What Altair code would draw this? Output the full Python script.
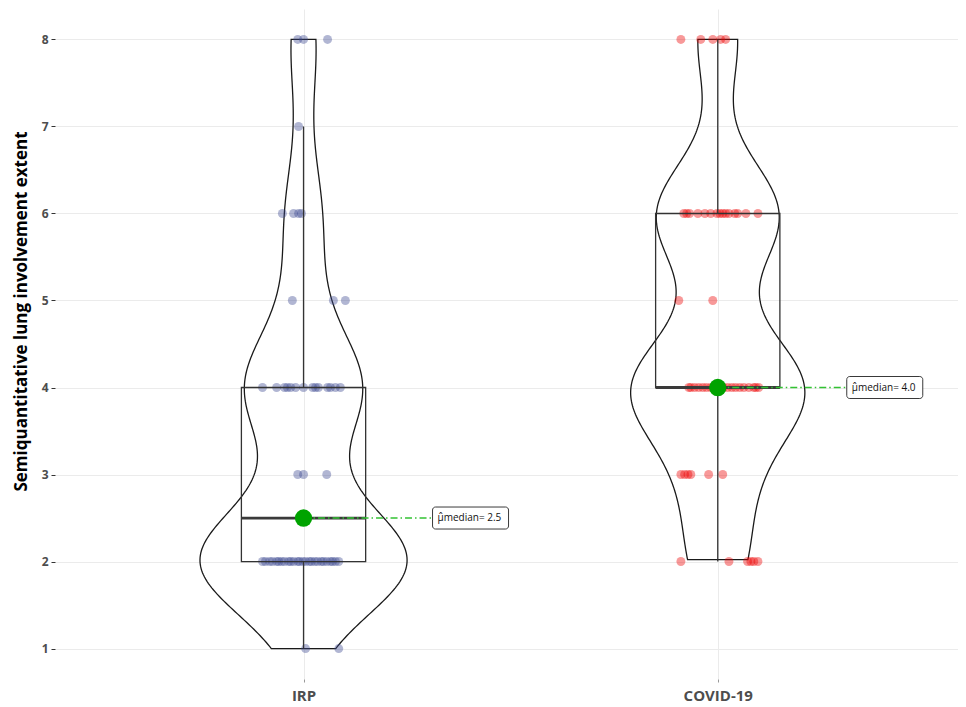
import altair as alt
import pandas as pd

groups = ["IRP", "COVID-19"]
group_pos = [1, 2]
point_colors = ["#3B4992", "#EE0000"]
y_ticks = [1, 2, 3, 4, 5, 6, 7, 8]

irp_y = [1, 1,
         2, 2, 2, 2, 2, 2, 2, 2, 2, 2, 2, 2, 2, 2, 2, 2, 2, 2, 2, 2, 2, 2, 2, 2, 2, 2,
         3, 3, 3,
         4, 4, 4, 4, 4, 4, 4, 4, 4, 4, 4, 4, 4, 4,
         5, 5, 5,
         6, 6, 6, 6,
         7,
         8, 8, 8]
irp_dx = [0.005, 0.085,
          -0.099, -0.092, -0.082, -0.075, -0.065, -0.060, -0.053, -0.046, -0.036, -0.031,
          -0.024, -0.014, -0.010, -0.002, 0.005, 0.014, 0.019, 0.027, 0.034, 0.043,
          0.048, 0.056, 0.065, 0.070, 0.077, 0.085,
          -0.014, 0.000, 0.056,
          -0.099, -0.065, -0.046, -0.039, -0.031, -0.019, 0.000, 0.022, 0.029, 0.036,
          0.058, 0.065, 0.077, 0.089,
          -0.027, 0.072, 0.101,
          -0.051, -0.024, -0.012, -0.005,
          -0.012,
          -0.014, 0.000, 0.058]

covid_y = [2, 2, 2, 2, 2, 2,
           3, 3, 3, 3, 3, 3,
           4, 4, 4, 4, 4, 4, 4, 4, 4, 4, 4, 4, 4, 4, 4, 4, 4, 4, 4, 4,
           5, 5,
           6, 6, 6, 6, 6, 6, 6, 6, 6, 6, 6, 6, 6, 6, 6,
           8, 8, 8, 8, 8]
covid_dx = [-0.089, 0.027, 0.072, 0.080, 0.087, 0.097,
            -0.089, -0.080, -0.072, -0.065, -0.022, 0.012,
            -0.070, -0.065, -0.056, -0.046, -0.036, -0.027, -0.017, -0.007, 0.000, 0.007,
            0.014, 0.024, 0.034, 0.043, 0.053, 0.063, 0.075, 0.087, 0.092, 0.099,
            -0.094, -0.012,
            -0.082, -0.075, -0.068, -0.048, -0.031, -0.017, -0.002, 0.005, 0.012, 0.019,
            0.027, 0.041, 0.048, 0.068, 0.097,
            -0.089, -0.041, -0.012, 0.007, 0.019]

rows = []
for g, c, ys, dxs in [(groups[0], group_pos[0], irp_y, irp_dx),
                      (groups[1], group_pos[1], covid_y, covid_dx)]:
    for v, d in zip(ys, dxs):
        rows.append({"group": g, "center": c, "value": v, "xj": c + d})
df = pd.DataFrame(rows)

xscale = alt.Scale(domain=[0.4, 2.58], nice=False, zero=False)
yscale = alt.Scale(domain=[0.65, 8.35], nice=False, zero=False)

label_expr = "[" + ",".join("'%s'" % g for g in groups) + "][datum.value - 1]"
xaxis = alt.Axis(values=group_pos, labelExpr=label_expr, title=None, grid=True,
                 gridColor="#ebebeb", domain=False, ticks=True, tickSize=3,
                 tickColor="#999999", labelFontSize=15, labelFontWeight="bold",
                 labelColor="#4d4d4d", labelFont="Open Sans", labelPadding=6)
yaxis = alt.Axis(values=y_ticks, title="Semiquantitative lung involvement extent",
                 grid=True, gridColor="#ebebeb", domain=False, tickSize=4,
                 tickColor="#333333", labelFontSize=12, labelFontWeight="bold",
                 labelColor="#4d4d4d", labelFont="Open Sans", labelPadding=3,
                 titleFont="Open Sans", titleFontSize=17, titleFontWeight="bold",
                 titleColor="black", titleX=-34, titleY=302, titleBaseline="middle")


def X(f):
    return alt.X(f, type="quantitative", scale=xscale, axis=xaxis)


def Y(f):
    return alt.Y(f, type="quantitative", scale=yscale, axis=yaxis)


base = alt.Chart(df)

violin = base.transform_joinaggregate(
    gmin="min(value)", gmax="max(value)", groupby=["group"]
).transform_density(
    "value", as_=["value", "density"], groupby=["group", "center", "gmin", "gmax"],
    bandwidth=0.6, extent=[1, 8], steps=281
).transform_filter(
    "datum.value >= datum.gmin - 1e-6 && datum.value <= datum.gmax + 1e-6"
).transform_joinaggregate(
    maxd="max(density)"
).transform_calculate(
    left="datum.center - 0.25 * datum.density / datum.maxd",
    right="datum.center + 0.25 * datum.density / datum.maxd"
).mark_area(orient="horizontal", fill="white", fillOpacity=0, stroke="#1a1a1a",
            strokeWidth=1.3).encode(
    y=Y("value"), x=X("left"), x2="right:Q", detail="group:N"
)

stats = base.transform_joinaggregate(
    q1="q1(value)", q3="q3(value)", med="median(value)", groupby=["group"]
).transform_calculate(
    lo="datum.q1 - 1.5 * (datum.q3 - datum.q1)",
    hi="datum.q3 + 1.5 * (datum.q3 - datum.q1)"
).transform_filter(
    "datum.value >= datum.lo && datum.value <= datum.hi"
).transform_aggregate(
    wmin="min(value)", wmax="max(value)", bq1="min(q1)", bq3="min(q3)", bmed="min(med)",
    groupby=["group", "center"]
).transform_calculate(
    bl="datum.center - 0.15", br="datum.center + 0.15",
    lab="'\u03bc\u0302median= ' + format(datum.bmed, '.1f')"
)

points = base.mark_circle(size=80, opacity=0.4).encode(
    x=X("xj"), y=Y("value"),
    color=alt.Color("group:N", scale=alt.Scale(domain=groups, range=point_colors), legend=None)
)

box = stats.mark_rect(fill="white", fillOpacity=0, stroke="#333333", strokeWidth=1.3).encode(
    x=X("bl"), x2="br:Q", y=Y("bq1"), y2="bq3:Q"
)
whisk_hi = stats.mark_rule(color="#333333", strokeWidth=1.3).encode(
    x=X("center"), y=Y("bq3"), y2="wmax:Q"
)
whisk_lo = stats.mark_rule(color="#333333", strokeWidth=1.3).encode(
    x=X("center"), y=Y("wmin"), y2="bq1:Q"
)
med_line = stats.mark_rule(color="#3a3a3a", strokeWidth=2.8).encode(
    x=X("bl"), x2="br:Q", y=Y("bmed")
)
dash = stats.mark_rule(color="#33c233", strokeWidth=1.4, strokeDash=[7, 3, 1.5, 3],
                       x2Offset=129).encode(
    x=X("center"), x2="center:Q", y=Y("bmed")
)
med_pt = stats.mark_circle(size=300, color="#00A300", opacity=1).encode(
    x=X("center"), y=Y("bmed")
)
lab_box = stats.mark_rect(fill="white", stroke="#222222", strokeWidth=0.9, cornerRadius=3,
                          xOffset=129, x2Offset=205, yOffset=-11, y2Offset=11).encode(
    x=X("center"), x2="center:Q", y=Y("bmed"), y2="bmed:Q"
)
lab_txt = stats.mark_text(align="left", baseline="middle", dx=134, fontSize=10,
                          font="Open Sans", color="#111111").encode(
    x=X("center"), y=Y("bmed"), text="lab:N"
)

chart = alt.layer(
    violin, points, box, whisk_hi, whisk_lo, med_line, dash, med_pt, lab_box, lab_txt
).properties(
    width=903, height=670,
    background="white",
    autosize=alt.AutoSizeParams(type="none"),
    padding={"left": 47, "top": 1, "right": 0, "bottom": 25}
).configure_view(strokeWidth=0, stroke="transparent")

chart.save("out.html", embed_options={"renderer": "svg", "actions": False})
